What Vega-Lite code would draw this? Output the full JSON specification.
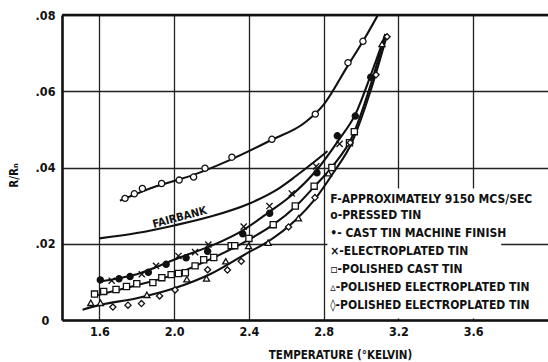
{
  "$schema": "https://vega.github.io/schema/vega-lite/v6.json",
  "width": 486,
  "height": 305,
  "autosize": {"type": "none"},
  "padding": {"left": 62, "top": 15, "right": 0, "bottom": 42},
  "background": "white",
  "config": {
    "view": {"stroke": null},
    "font": "DejaVu Sans Condensed, Roboto, sans-serif",
    "axis": {
      "labelFont": "DejaVu Sans Condensed, Roboto, sans-serif",
      "titleFont": "DejaVu Sans Condensed, Roboto, sans-serif",
      "labelFontWeight": "bold",
      "titleFontWeight": "bold",
      "labelColor": "#111",
      "titleColor": "#111",
      "ticks": false,
      "tickSize": 0,
      "domainColor": "#111",
      "domainWidth": 2.6,
      "gridColor": "#222",
      "gridWidth": 1.3,
      "gridOpacity": 1
    }
  },
  "datasets": {
    "pts": [
      {"s": "pressed", "T": 1.737, "R": 0.0319}, {"s": "pressed", "T": 1.787, "R": 0.0331}, {"s": "pressed", "T": 1.830, "R": 0.0345},
      {"s": "pressed", "T": 1.933, "R": 0.0358}, {"s": "pressed", "T": 2.027, "R": 0.0367}, {"s": "pressed", "T": 2.104, "R": 0.0375},
      {"s": "pressed", "T": 2.165, "R": 0.0398}, {"s": "pressed", "T": 2.309, "R": 0.0427}, {"s": "pressed", "T": 2.523, "R": 0.0474},
      {"s": "pressed", "T": 2.755, "R": 0.0540}, {"s": "pressed", "T": 2.930, "R": 0.0675}, {"s": "pressed", "T": 3.010, "R": 0.0731},
      {"s": "cast", "T": 1.605, "R": 0.0105}, {"s": "cast", "T": 1.705, "R": 0.0108}, {"s": "cast", "T": 1.764, "R": 0.0114},
      {"s": "cast", "T": 1.862, "R": 0.0125}, {"s": "cast", "T": 1.957, "R": 0.0146}, {"s": "cast", "T": 2.064, "R": 0.0163},
      {"s": "cast", "T": 2.179, "R": 0.0180}, {"s": "cast", "T": 2.367, "R": 0.0226}, {"s": "cast", "T": 2.511, "R": 0.0280},
      {"s": "cast", "T": 2.764, "R": 0.0386}, {"s": "cast", "T": 2.873, "R": 0.0483}, {"s": "cast", "T": 2.969, "R": 0.0535},
      {"s": "cast", "T": 3.052, "R": 0.0637},
      {"s": "electro", "T": 1.666, "R": 0.0103}, {"s": "electro", "T": 1.827, "R": 0.0120}, {"s": "electro", "T": 1.903, "R": 0.0142},
      {"s": "electro", "T": 2.023, "R": 0.0168}, {"s": "electro", "T": 2.112, "R": 0.0178}, {"s": "electro", "T": 2.183, "R": 0.0198},
      {"s": "electro", "T": 2.372, "R": 0.0245}, {"s": "electro", "T": 2.510, "R": 0.0299}, {"s": "electro", "T": 2.629, "R": 0.0332},
      {"s": "electro", "T": 2.760, "R": 0.0403}, {"s": "electro", "T": 2.885, "R": 0.0462},
      {"s": "polcast", "T": 1.574, "R": 0.0068}, {"s": "polcast", "T": 1.623, "R": 0.0075}, {"s": "polcast", "T": 1.689, "R": 0.0080},
      {"s": "polcast", "T": 1.745, "R": 0.0088}, {"s": "polcast", "T": 1.800, "R": 0.0095}, {"s": "polcast", "T": 1.886, "R": 0.0098},
      {"s": "polcast", "T": 1.934, "R": 0.0111}, {"s": "polcast", "T": 1.984, "R": 0.0119}, {"s": "polcast", "T": 2.023, "R": 0.0122},
      {"s": "polcast", "T": 2.060, "R": 0.0124}, {"s": "polcast", "T": 2.112, "R": 0.0142}, {"s": "polcast", "T": 2.158, "R": 0.0158},
      {"s": "polcast", "T": 2.212, "R": 0.0164}, {"s": "polcast", "T": 2.305, "R": 0.0195}, {"s": "polcast", "T": 2.324, "R": 0.0195},
      {"s": "polcast", "T": 2.400, "R": 0.0214}, {"s": "polcast", "T": 2.530, "R": 0.0250}, {"s": "polcast", "T": 2.648, "R": 0.0299},
      {"s": "polcast", "T": 2.749, "R": 0.0351}, {"s": "polcast", "T": 2.844, "R": 0.0400}, {"s": "polcast", "T": 2.938, "R": 0.0465},
      {"s": "polcast", "T": 2.964, "R": 0.0494},
      {"s": "polel1", "T": 1.554, "R": 0.0045}, {"s": "polel1", "T": 1.606, "R": 0.0045}, {"s": "polel1", "T": 1.854, "R": 0.0066},
      {"s": "polel1", "T": 2.068, "R": 0.0107}, {"s": "polel1", "T": 2.173, "R": 0.0109}, {"s": "polel1", "T": 2.276, "R": 0.0154},
      {"s": "polel1", "T": 2.398, "R": 0.0194}, {"s": "polel1", "T": 2.503, "R": 0.0203}, {"s": "polel1", "T": 2.665, "R": 0.0267},
      {"s": "polel1", "T": 2.826, "R": 0.0385}, {"s": "polel1", "T": 3.112, "R": 0.0724},
      {"s": "polel2", "T": 1.672, "R": 0.0034}, {"s": "polel2", "T": 1.753, "R": 0.0039}, {"s": "polel2", "T": 1.825, "R": 0.0043},
      {"s": "polel2", "T": 1.922, "R": 0.0063}, {"s": "polel2", "T": 2.005, "R": 0.0079}, {"s": "polel2", "T": 2.179, "R": 0.0132},
      {"s": "polel2", "T": 2.285, "R": 0.0131}, {"s": "polel2", "T": 2.359, "R": 0.0154}, {"s": "polel2", "T": 2.612, "R": 0.0244},
      {"s": "polel2", "T": 2.753, "R": 0.0321}, {"s": "polel2", "T": 2.942, "R": 0.0465}, {"s": "polel2", "T": 3.080, "R": 0.0643},
      {"s": "polel2", "T": 3.139, "R": 0.0743}
    ],
    "curves": [
      {"c": "pressed", "T": 1.71, "R": 0.0313}, {"c": "pressed", "T": 1.9, "R": 0.0350}, {"c": "pressed", "T": 2.1, "R": 0.0380},
      {"c": "pressed", "T": 2.3, "R": 0.0420}, {"c": "pressed", "T": 2.52, "R": 0.0472}, {"c": "pressed", "T": 2.7, "R": 0.0518},
      {"c": "pressed", "T": 2.8, "R": 0.0565}, {"c": "pressed", "T": 2.93, "R": 0.0668}, {"c": "pressed", "T": 3.01, "R": 0.0731},
      {"c": "pressed", "T": 3.09, "R": 0.0800},
      {"c": "fair", "T": 1.6, "R": 0.0214}, {"c": "fair", "T": 1.8, "R": 0.0228}, {"c": "fair", "T": 2.0, "R": 0.0248},
      {"c": "fair", "T": 2.2, "R": 0.0272}, {"c": "fair", "T": 2.4, "R": 0.0305}, {"c": "fair", "T": 2.55, "R": 0.0342},
      {"c": "fair", "T": 2.65, "R": 0.0377}, {"c": "fair", "T": 2.75, "R": 0.0415}, {"c": "fair", "T": 2.82, "R": 0.0443},
      {"c": "A", "T": 1.6, "R": 0.0101}, {"c": "A", "T": 1.8, "R": 0.0120}, {"c": "A", "T": 2.03, "R": 0.0164},
      {"c": "A", "T": 2.21, "R": 0.0197}, {"c": "A", "T": 2.37, "R": 0.0236}, {"c": "A", "T": 2.51, "R": 0.0284},
      {"c": "A", "T": 2.63, "R": 0.0328}, {"c": "A", "T": 2.76, "R": 0.0392}, {"c": "A", "T": 2.88, "R": 0.0472},
      {"c": "A", "T": 2.97, "R": 0.0540}, {"c": "A", "T": 3.05, "R": 0.0640}, {"c": "A", "T": 3.13, "R": 0.0750},
      {"c": "B", "T": 1.57, "R": 0.0063}, {"c": "B", "T": 1.8, "R": 0.0091}, {"c": "B", "T": 2.0, "R": 0.0119},
      {"c": "B", "T": 2.2, "R": 0.0161}, {"c": "B", "T": 2.4, "R": 0.0211}, {"c": "B", "T": 2.53, "R": 0.0250},
      {"c": "B", "T": 2.65, "R": 0.0298}, {"c": "B", "T": 2.75, "R": 0.0350}, {"c": "B", "T": 2.85, "R": 0.0405},
      {"c": "B", "T": 2.95, "R": 0.0478}, {"c": "B", "T": 3.05, "R": 0.0615}, {"c": "B", "T": 3.13, "R": 0.0750},
      {"c": "C", "T": 1.51, "R": 0.0027}, {"c": "C", "T": 1.6, "R": 0.0039}, {"c": "C", "T": 1.8, "R": 0.0057},
      {"c": "C", "T": 2.0, "R": 0.0083}, {"c": "C", "T": 2.2, "R": 0.0122}, {"c": "C", "T": 2.4, "R": 0.0178},
      {"c": "C", "T": 2.5, "R": 0.0205}, {"c": "C", "T": 2.65, "R": 0.0262}, {"c": "C", "T": 2.75, "R": 0.0315},
      {"c": "C", "T": 2.85, "R": 0.0385}, {"c": "C", "T": 2.95, "R": 0.0465}, {"c": "C", "T": 3.05, "R": 0.0600},
      {"c": "C", "T": 3.14, "R": 0.0750}
    ],
    "legend": [
      {"T": 2.835, "R": 0.0317, "label": "F-APPROXIMATELY  9150  MCS/SEC"},
      {"T": 2.835, "R": 0.0276, "label": "o-PRESSED TIN"},
      {"T": 2.835, "R": 0.0228, "label": "•- CAST TIN MACHINE FINISH"},
      {"T": 2.835, "R": 0.0181, "label": "×-ELECTROPLATED TIN"},
      {"T": 2.835, "R": 0.0134, "label": "▫-POLISHED CAST  TIN"},
      {"T": 2.835, "R": 0.0087, "label": "▵-POLISHED ELECTROPLATED TIN"},
      {"T": 2.835, "R": 0.0039, "label": "◊-POLISHED ELECTROPLATED TIN"}
    ]
  },
  "layer": [
    {
      "data": {"values": [{"T1": 2.82, "T2": 3.75, "R1": 0.0004, "R2": 0.0345}]},
      "mark": {"type": "rect", "fill": "white"},
      "encoding": {
        "x": {"field": "T1", "type": "quantitative", "scale": {"domain": [1.4, 4.0], "nice": false, "zero": false},
          "axis": {"values": [1.6, 2.0, 2.4, 2.8, 3.2, 3.6], "format": ".1f", "labelFontSize": 12.5, "labelPadding": 5,
            "title": "TEMPERATURE (°KELVIN)", "titleFontSize": 11.5, "titleX": 278, "titleY": 35, "titleBaseline": "middle"}},
        "x2": {"field": "T2"},
        "y": {"field": "R1", "type": "quantitative", "scale": {"domain": [0, 0.08], "nice": false, "zero": false},
          "axis": {"values": [0, 0.02, 0.04, 0.06, 0.08], "labelExpr": "datum.value === 0 ? '0' : slice(format(datum.value, '.2f'), 1)",
            "labelFontSize": 12.5, "labelAlign": "center", "labelPadding": 17, "labelBaseline": "middle",
            "title": "R/Rₙ", "titleFontSize": 11.5, "titleX": -48, "titleY": 160, "titleAlign": "center", "titleBaseline": "middle"}},
        "y2": {"field": "R2"}
      }
    },
    {
      "data": {"values": [{"R": 0.08}]},
      "mark": {"type": "rule", "color": "#111", "strokeWidth": 2.6},
      "encoding": {"y": {"field": "R", "type": "quantitative"}}
    },
    {
      "data": {"name": "curves"},
      "mark": {"type": "line", "color": "#111", "strokeWidth": 2.1, "interpolate": "monotone", "clip": true},
      "encoding": {
        "x": {"field": "T", "type": "quantitative"},
        "y": {"field": "R", "type": "quantitative"},
        "detail": {"field": "c"},
        "order": {"field": "T"}
      }
    },
    {
      "data": {"name": "pts"},
      "mark": {"type": "point", "filled": true, "size": 38, "stroke": "#111", "strokeWidth": 1.3, "opacity": 1},
      "encoding": {
        "x": {"field": "T", "type": "quantitative"},
        "y": {"field": "R", "type": "quantitative"},
        "shape": {"field": "s", "type": "nominal", "legend": null,
          "scale": {"domain": ["pressed", "cast", "electro", "polcast", "polel1", "polel2"],
            "range": ["circle", "circle", "M-1,-1L1,1M-1,1L1,-1", "square", "triangle-up", "diamond"]}},
        "fill": {"field": "s", "type": "nominal", "legend": null,
          "scale": {"domain": ["pressed", "cast", "electro", "polcast", "polel1", "polel2"],
            "range": ["white", "#111", "transparent", "white", "white", "white"]}}
      }
    },
    {
      "data": {"name": "legend"},
      "mark": {"type": "text", "align": "left", "baseline": "middle", "fontSize": 12, "fontWeight": "bold", "color": "#111", "font": "DejaVu Sans Condensed, Roboto, sans-serif"},
      "encoding": {
        "x": {"field": "T", "type": "quantitative"},
        "y": {"field": "R", "type": "quantitative"},
        "text": {"field": "label"}
      }
    },
    {
      "data": {"values": [{"T": 2.03, "R": 0.0268, "label": "FAIRBANK"}]},
      "mark": {"type": "text", "align": "center", "baseline": "middle", "fontSize": 11, "fontWeight": "bold", "angle": -15, "color": "#111", "font": "DejaVu Sans Condensed, Roboto, sans-serif"},
      "encoding": {
        "x": {"field": "T", "type": "quantitative"},
        "y": {"field": "R", "type": "quantitative"},
        "text": {"field": "label"}
      }
    }
  ]
}
